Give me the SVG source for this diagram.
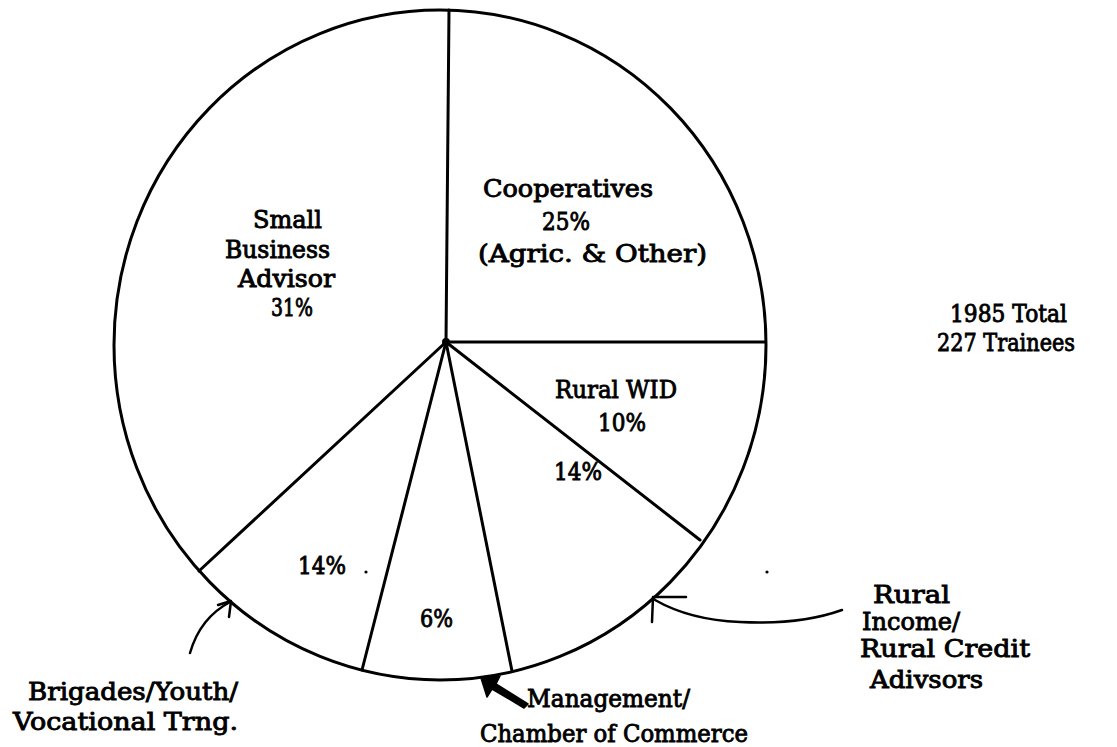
<svg xmlns="http://www.w3.org/2000/svg" width="1117" height="747" viewBox="0 0 1117 747">
<style>
.ln{fill:none;stroke:#000;stroke-width:3;stroke-linecap:round;stroke-linejoin:round}
.thin{fill:none;stroke:#000;stroke-width:2.5;stroke-linecap:round;stroke-linejoin:round}
text{font-family:"DejaVu Serif","Liberation Serif",serif;font-size:24px;fill:#000;stroke:#000;stroke-width:0.9}
</style>
<rect width="1117" height="747" fill="#fff"/>
<g id="pie">
<ellipse class="ln" cx="440" cy="345" rx="326" ry="335"/>
<line class="ln" x1="446" y1="342" x2="449" y2="10"/>
<line class="ln" x1="446" y1="342" x2="765" y2="342"/>
<line class="ln" x1="446" y1="342" x2="700" y2="540"/>
<line class="ln" x1="446" y1="342" x2="512" y2="671"/>
<line class="ln" x1="446" y1="342" x2="362" y2="670"/>
<line class="ln" x1="446" y1="342" x2="199" y2="571"/>
<circle cx="446" cy="342" r="4" fill="#000"/>
</g>
<g id="small-business">
<text x="253" y="228" textLength="69" lengthAdjust="spacingAndGlyphs">Small</text>
<text x="225" y="258" textLength="105" lengthAdjust="spacingAndGlyphs">Business</text>
<text x="238" y="287" textLength="97" lengthAdjust="spacingAndGlyphs">Advisor</text>
<text x="271" y="316" textLength="42" lengthAdjust="spacingAndGlyphs">31%</text>
</g>
<g id="cooperatives">
<text x="483" y="197" textLength="170" lengthAdjust="spacingAndGlyphs">Cooperatives</text>
<text x="542" y="230" textLength="48" lengthAdjust="spacingAndGlyphs">25%</text>
<text x="478" y="262" textLength="229" lengthAdjust="spacingAndGlyphs">(Agric. &amp; Other)</text>
</g>
<g id="rural-wid">
<text x="555" y="398" textLength="122" lengthAdjust="spacingAndGlyphs">Rural WID</text>
<text x="598" y="431" textLength="48" lengthAdjust="spacingAndGlyphs">10%</text>
</g>
<g id="rural-income">
<text x="554" y="480" textLength="48" lengthAdjust="spacingAndGlyphs">14%</text>
<text x="873" y="603" textLength="77" lengthAdjust="spacingAndGlyphs">Rural</text>
<text x="862" y="630" textLength="98" lengthAdjust="spacingAndGlyphs">Income/</text>
<text x="860" y="657" textLength="170" lengthAdjust="spacingAndGlyphs">Rural Credit</text>
<text x="870" y="688" textLength="113" lengthAdjust="spacingAndGlyphs">Adivsors</text>
</g>
<g id="management">
<text x="420" y="627" textLength="33" lengthAdjust="spacingAndGlyphs">6%</text>
<text x="527" y="707" textLength="163" lengthAdjust="spacingAndGlyphs">Management/</text>
<text x="480" y="742" textLength="268" lengthAdjust="spacingAndGlyphs">Chamber of Commerce</text>
</g>
<g id="brigades">
<text x="298" y="574" textLength="48" lengthAdjust="spacingAndGlyphs">14%</text>
<text x="28" y="700" textLength="210" lengthAdjust="spacingAndGlyphs">Brigades/Youth/</text>
<text x="13" y="730" textLength="225" lengthAdjust="spacingAndGlyphs">Vocational Trng.</text>
</g>
<g id="total">
<text x="950" y="322" textLength="117" lengthAdjust="spacingAndGlyphs">1985 Total</text>
<text x="937" y="351" textLength="138" lengthAdjust="spacingAndGlyphs">227 Trainees</text>
</g>
<g id="connectors">
<path class="thin" d="M190,653 Q200,618 230,602"/>
<path class="thin" d="M218,605 L231,601 L229,617"/>
<path class="thin" d="M655,600 Q690,620 740,622 Q800,625 842,610"/>
<path class="thin" d="M686,597 L653,597 L652,622"/>
<path d="M481,678 L500,676 L496,684 L528,704 L524,708 L492,689 L487,697 Z" fill="#000" stroke="#000" stroke-width="1.5" stroke-linejoin="round"/>
<circle cx="366" cy="572" r="1.6" fill="#000"/>
<circle cx="767" cy="572" r="1.6" fill="#000"/>
</g>
</svg>
